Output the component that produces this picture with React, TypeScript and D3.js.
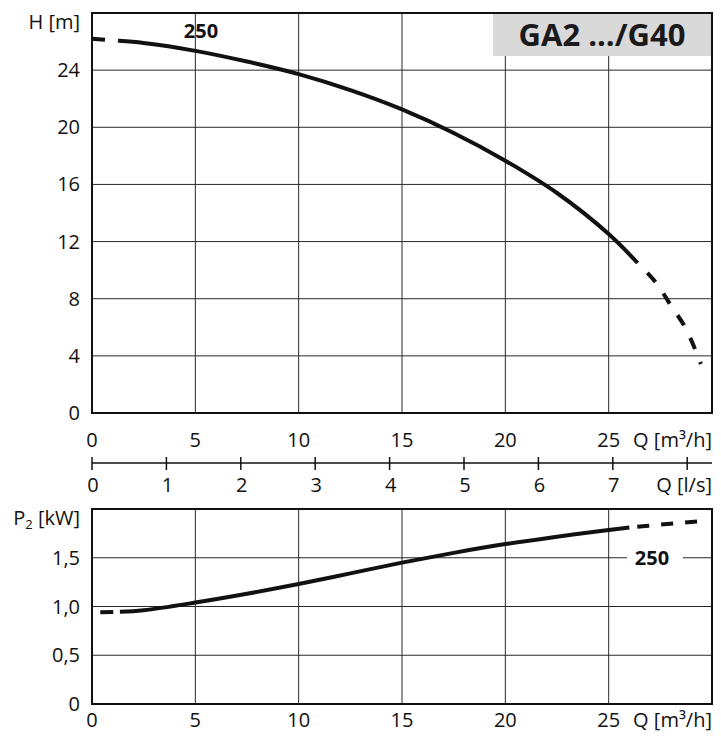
import * as d3 from 'd3';

// pump curve GA2 .../G40, impeller 250
const qTicks = [0, 5, 10, 15, 20, 25];
const hTicks = [0, 4, 8, 12, 16, 20, 24];
const pTicks = [0, 0.5, 1.0, 1.5];
const pTickLabels = ['0', '0,5', '1,0', '1,5'];
const lsTicks = [0, 1, 2, 3, 4, 5, 6, 7, 8];
const lsTickLabels = ['0', '1', '2', '3', '4', '5', '6', '7', ''];

const qH = [0, 1.3, 2.5, 5, 7.5, 10, 12.5, 15, 17.5, 20, 22.5, 25, 26.4, 27.3, 28.0, 28.7, 29.2, 29.46];
const hVals = [26.2, 26.05, 25.9, 25.35, 24.6, 23.72, 22.6, 21.25, 19.6, 17.66, 15.4, 12.53, 10.5, 9.1, 7.55, 6.0, 4.4, 3.43];
const hSolid = [1.3, 26.4];

const qP = [0.4, 1.35, 2.5, 5, 7.5, 10, 12.5, 15, 17.5, 20, 22.5, 25, 26.0, 27.5, 29.5];
const pVals = [0.94, 0.945, 0.962, 1.04, 1.13, 1.23, 1.34, 1.45, 1.55, 1.64, 1.715, 1.785, 1.81, 1.84, 1.877];
const pSolid = [1.35, 26.0];

const curveName = '250';
const title = 'GA2 .../G40';

const font = "'Open Sans', 'DejaVu Sans', sans-serif";

export default function App() {
  const left = 92, right = 712;
  const hTop = 13, hBottom = 413;
  const pTop = 509, pBottom = 704;
  const lsY = 463;

  const x = d3.scaleLinear().domain([0, 30]).range([left, right]);
  const xLs = d3.scaleLinear().domain([0, 30 / 3.6]).range([left, right]);
  const yH = d3.scaleLinear().domain([0, 28]).range([hBottom, hTop]);
  const yP = d3.scaleLinear().domain([0, 2]).range([pBottom, pTop]);

  const hPts: [number, number][] = qH.map((q, i) => [q, hVals[i]]);
  const pPts: [number, number][] = qP.map((q, i) => [q, pVals[i]]);

  const lineH = d3.line<[number, number]>().x(d => x(d[0])).y(d => yH(d[1])).curve(d3.curveCatmullRom.alpha(0.5));
  const lineP = d3.line<[number, number]>().x(d => x(d[0])).y(d => yP(d[1])).curve(d3.curveCatmullRom.alpha(0.5));

  const split = (pts: [number, number][], lim: number[]) => ({
    head: pts.filter(d => d[0] <= lim[0]),
    body: pts.filter(d => d[0] >= lim[0] && d[0] <= lim[1]),
    tail: pts.filter(d => d[0] >= lim[1]),
  });
  const hs = split(hPts, hSolid);
  const ps = split(pPts, pSolid);

  const grid = '#2a2a2a';
  const ink = '#111';
  const fs = 20;

  return (
    <svg width={721} height={737} style={{ position: 'absolute', left: 0, top: 0, display: 'block' }}
      fontFamily={font} fill={ink}>
      <rect x={0} y={0} width={721} height={737} fill="#fff" />

      {/* head chart */}
      {qTicks.filter(t => t > 0).map(t => (
        <line key={'hv' + t} x1={x(t)} x2={x(t)} y1={hTop} y2={hBottom} stroke={grid} strokeWidth={1} />
      ))}
      {hTicks.filter(t => t > 0).map(t => (
        <line key={'hh' + t} x1={left} x2={right} y1={yH(t)} y2={yH(t)} stroke={grid} strokeWidth={1} />
      ))}
      <rect x={493} y={hTop} width={right - 493} height={43} fill="#d9d9d9" />
      <text x={602} y={46} textAnchor="middle" fontSize={31} fontWeight="bold" fill="#1a1a1a">{title}</text>
      <rect x={left} y={hTop} width={right - left} height={hBottom - hTop} fill="none" stroke={ink} strokeWidth={2} />

      <path d={lineH(hs.head) || ''} fill="none" stroke={ink} strokeWidth={4} strokeDasharray="13,13" />
      <path d={lineH(hs.body) || ''} fill="none" stroke={ink} strokeWidth={4} />
      <path d={lineH(hs.tail) || ''} fill="none" stroke={ink} strokeWidth={4} strokeDasharray="12,14" strokeDashoffset={12} />
      <text x={201} y={38} textAnchor="middle" fontSize={20} fontWeight="bold">{curveName}</text>

      {hTicks.map(t => (
        <text key={'hl' + t} x={80} y={yH(t) + 7} textAnchor="end" fontSize={fs}>{t}</text>
      ))}
      <text x={80} y={29} textAnchor="end" fontSize={fs}>H [m]</text>

      {qTicks.map(t => (
        <text key={'ql' + t} x={x(t)} y={447} textAnchor="middle" fontSize={fs}>{t}</text>
      ))}
      <text x={right} y={447} textAnchor="end" fontSize={fs}>Q [m³/h]</text>

      {/* l/s scale */}
      <line x1={left} x2={right} y1={lsY} y2={lsY} stroke={ink} strokeWidth={1.5} />
      {lsTicks.map((t, i) => (
        <g key={'ls' + t}>
          <line x1={xLs(t)} x2={xLs(t)} y1={lsY - 6} y2={lsY + 7} stroke={ink} strokeWidth={1.5} />
          <text x={xLs(t) + 1} y={492} textAnchor="middle" fontSize={fs}>{lsTickLabels[i]}</text>
        </g>
      ))}
      <text x={right} y={492} textAnchor="end" fontSize={fs}>Q [l/s]</text>

      {/* power chart */}
      {qTicks.filter(t => t > 0).map(t => (
        <line key={'pv' + t} x1={x(t)} x2={x(t)} y1={pTop} y2={pBottom} stroke={grid} strokeWidth={1} />
      ))}
      {pTicks.filter(t => t > 0).map(t => (
        <line key={'ph' + t} x1={left} x2={right} y1={yP(t)} y2={yP(t)} stroke={grid} strokeWidth={1} />
      ))}
      <rect x={627} y={yP(1.5) - 12} width={56} height={24} fill="#fff" />
      <text x={652} y={565} textAnchor="middle" fontSize={20} fontWeight="bold">{curveName}</text>
      <rect x={left} y={pTop} width={right - left} height={pBottom - pTop} fill="none" stroke={ink} strokeWidth={2} />

      <path d={lineP(ps.head) || ''} fill="none" stroke={ink} strokeWidth={4} strokeDasharray="13,7" />
      <path d={lineP(ps.body) || ''} fill="none" stroke={ink} strokeWidth={4} />
      <path d={lineP(ps.tail) || ''} fill="none" stroke={ink} strokeWidth={4} strokeDasharray="12,12" strokeDashoffset={16} />

      {pTicks.map((t, i) => (
        <text key={'pl' + t} x={80} y={yP(t) + 7} textAnchor="end" fontSize={fs}>{pTickLabels[i]}</text>
      ))}
      <text x={80} y={525} textAnchor="end" fontSize={fs}>
        P<tspan fontSize={13} dy={4}>2</tspan><tspan dy={-4}> [kW]</tspan>
      </text>

      {qTicks.map(t => (
        <text key={'qb' + t} x={x(t)} y={727} textAnchor="middle" fontSize={fs}>{t}</text>
      ))}
      <text x={right} y={727} textAnchor="end" fontSize={fs}>Q [m³/h]</text>
    </svg>
  );
}
